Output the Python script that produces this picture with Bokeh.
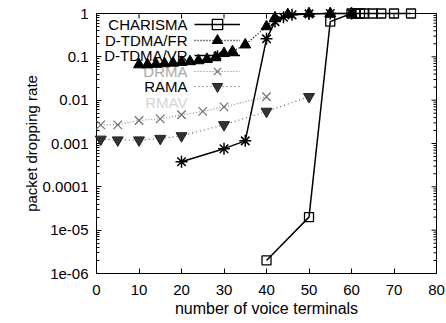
import math
from bokeh.plotting import figure
from bokeh.models import (FixedTicker, CustomJSTickFormatter, Legend, LegendItem, Label, Range1d)
from bokeh.embed import file_html
from bokeh.resources import INLINE

# ---------------- data ----------------
charisma_x = [40, 50, 55, 60, 61, 62, 63, 65, 67, 70, 74]
charisma_y = [2e-6, 2e-5, 0.65, 1, 1, 1, 1, 1, 1, 1, 1]

dtdma_fr_x = [10, 12, 14, 16, 18, 20, 22, 24, 26, 28, 30, 32, 35, 40, 42, 45, 50, 55, 60]
dtdma_fr_y = [0.066, 0.066, 0.068, 0.07, 0.072, 0.075, 0.078, 0.082, 0.088, 0.096,
              0.12, 0.133, 0.19, 0.5, 0.8, 0.95, 1, 1, 1]

dtdma_vr_x = [20, 30, 35, 40, 42, 44, 46, 50, 55, 60]
dtdma_vr_y = [3.8e-4, 7.6e-4, 1.15e-3, 0.26, 0.65, 0.82, 0.93, 0.98, 1, 1]

drma_x = [1, 5, 10, 15, 20, 25, 30, 40]
drma_y = [2.7e-3, 2.7e-3, 3.4e-3, 3.7e-3, 4.6e-3, 5.5e-3, 7.0e-3, 0.012]

rama_x = [1, 5, 10, 15, 20, 30, 40, 50]
rama_y = [1.25e-3, 1.2e-3, 1.2e-3, 1.3e-3, 1.5e-3, 2.7e-3, 5.5e-3, 0.012]

series_names = ["CHARISMA", "D-TDMA/FR", "D-TDMA/VR", "DRMA", "RAMA", "RMAV"]

x_ticks = [0, 10, 20, 30, 40, 50, 60, 70, 80]
y_tick_values = [1e-6, 1e-5, 1e-4, 1e-3, 1e-2, 1e-1, 1]
y_tick_labels = ["1e-06", "1e-05", "0.0001", "0.001", "0.01", "0.1", "1"]

# ---------------- figure ----------------
FONT = "Liberation Sans"
FRAME_W, FRAME_H = 340, 260

p = figure(frame_width=FRAME_W, frame_height=FRAME_H,
           min_border_left=96, min_border_right=9, min_border_top=13, min_border_bottom=49,
           x_range=Range1d(x_ticks[0], x_ticks[-1]),
           y_range=Range1d(y_tick_values[0], y_tick_values[-1]), y_axis_type="log",
           output_backend="svg", toolbar_location=None,
           background_fill_color="white", border_fill_color="white")
p.grid.visible = False
p.outline_line_color = "black"
p.outline_line_width = 1

minor = [m * 10.0 ** e for e in range(-6, 0) for m in range(2, 10)]
yticker = FixedTicker(ticks=y_tick_values, minor_ticks=minor)
xticker = FixedTicker(ticks=x_ticks)
yfmt = CustomJSTickFormatter(args=dict(vals=y_tick_values, labels=y_tick_labels), code="""
let best = 0, d = Infinity;
for (let i = 0; i < vals.length; i++) {
  const dd = Math.abs(Math.log10(vals[i]) - Math.log10(tick));
  if (dd < d) { d = dd; best = i; }
}
return labels[best];
""")


def style(ax):
    ax.axis_line_color = "black"
    ax.major_tick_in = 5
    ax.major_tick_out = 0
    ax.minor_tick_in = 3
    ax.minor_tick_out = 0
    ax.major_tick_line_color = "black"
    ax.minor_tick_line_color = "black"
    ax.major_label_text_font = FONT
    ax.major_label_text_color = "black"
    ax.major_label_text_font_size = "15px"
    ax.axis_label_text_font = FONT
    ax.axis_label_text_font_style = "normal"
    ax.axis_label_text_color = "black"


xa = p.xaxis[0]
xa.ticker = xticker
style(xa)
xa.minor_tick_in = 0
xa.major_label_standoff = 11
xa.axis_label = "number of voice terminals"
xa.axis_label_text_font_size = "16px"
xa.axis_label_standoff = 2

ya = p.yaxis[0]
ya.ticker = yticker
ya.formatter = yfmt
style(ya)
ya.major_label_standoff = 8
ya.axis_label = "packet dropping rate"
ya.axis_label_text_font_size = "15px"
ya.axis_label_standoff = 0

# mirrored ticks on the right and top edges (half of each dash is clipped by the frame)
p.scatter([x_ticks[-1]] * len(y_tick_values), y_tick_values, marker="dash", size=10,
          line_color="black", line_width=1)
p.scatter([x_ticks[-1]] * len(minor), minor, marker="dash", size=6,
          line_color="black", line_width=1)
p.scatter(x_ticks, [y_tick_values[-1]] * len(x_ticks), marker="dash", angle=math.pi / 2,
          size=10, line_color="black", line_width=1)

# ---------------- series ----------------
rend = {}

l = p.line(charisma_x, charisma_y, line_color="black", line_width=1.5)
s = p.scatter(charisma_x, charisma_y, marker="square", size=9, fill_color="white",
              fill_alpha=0, line_color="black", line_width=1.3)
rend["CHARISMA"] = [l, s]

l = p.line(dtdma_fr_x, dtdma_fr_y, line_color="black", line_width=1.3, line_dash="1 2")
s = p.scatter(dtdma_fr_x, dtdma_fr_y, marker="triangle", size=11, fill_color="black",
              line_color="black")
rend["D-TDMA/FR"] = [l, s]

l = p.line(dtdma_vr_x, dtdma_vr_y, line_color="black", line_width=1.5)
s = p.scatter(dtdma_vr_x, dtdma_vr_y, marker="asterisk", size=12, line_color="black",
              line_width=1.5)
rend["D-TDMA/VR"] = [l, s]

l = p.line(drma_x, drma_y, line_color="#808080", line_width=1.1, line_dash="1 2")
s = p.scatter(drma_x, drma_y, marker="x", size=12, line_color="#707070", line_width=1.2)
rend["DRMA"] = [l, s]

l = p.line(rama_x, rama_y, line_color="#555555", line_width=1.1, line_dash="1 3")
s = p.scatter(rama_x, rama_y, marker="inverted_triangle", size=11, fill_color="#333333",
              line_color="#222222")
rend["RAMA"] = [l, s]

for rs in rend.values():
    for r in rs:
        r.level = "overlay"

# ---------------- legend (gnuplot style: right-aligned text, then sample) ----------------
label_colors = {"CHARISMA": "black", "D-TDMA/FR": "black", "D-TDMA/VR": "black",
                "DRMA": "#a8a8a8", "RAMA": "black", "RMAV": "#d4d4d4"}
ROW0, ROWSTEP, GH, GW, GX, TEXT_GAP = 11, 15.6, 26, 46, 98, 7
for i, name in enumerate(series_names):
    cy = FRAME_H - (ROW0 + ROWSTEP * i)
    p.add_layout(Label(x=GX - TEXT_GAP, y=cy, x_units="screen", y_units="screen",
                       text=name, text_align="right", text_baseline="middle",
                       text_font=FONT, text_font_size="15px",
                       text_color=label_colors[name]))
    if name in rend:
        lg = Legend(items=[LegendItem(label=" ", renderers=rend[name])],
                    location=(GX, cy - GH / 2), glyph_width=GW, glyph_height=GH,
                    padding=0, margin=0, spacing=0, label_standoff=0, label_width=0,
                    label_height=GH, label_text_font_size="15px",
                    background_fill_alpha=0, border_line_alpha=0)
        p.add_layout(lg)

open("out.html", "w").write(file_html(p, INLINE))
